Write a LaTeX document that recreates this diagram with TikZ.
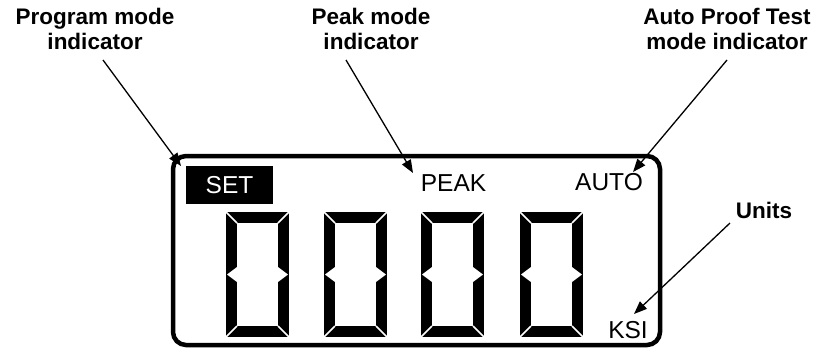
\documentclass[tikz,border=0pt]{standalone}
\usepackage{fontspec}
\setmainfont{Liberation Sans}
\usetikzlibrary{arrows.meta}
\begin{document}
\begin{tikzpicture}[
  x=1pt, y=-1pt,
  callout/.style={font=\bfseries\fontsize{22.5}{24.5}\selectfont, align=center, inner sep=0pt},
  lcdtext/.style={font=\fontsize{24.5}{24.5}\selectfont, inner sep=0pt},
  pointer/.style={line width=1.3pt, -{Triangle[length=13pt,width=10pt]}},
  lcdzero/.pic={
    % outer block of the six segments
    \fill[black] (0,0) rectangle (63,125);
    \fill[white] (11,11) rectangle (52,114);
    % bevel gaps between segments at the corners
    \draw[white, line width=1.6pt] (0,0) -- (11,11) (63,0) -- (52,11)
      (0,125) -- (11,114) (63,125) -- (52,114);
    % pointed gaps at mid height
    \fill[white] (1,62.5) -- (11,55) -- (11,70) -- cycle;
    \fill[white] (62,62.5) -- (52,55) -- (52,70) -- cycle;
  }
]
\useasboundingbox (0,0) rectangle (819,349);

% display frame
\node[draw, line width=4.5pt, rounded corners=13pt,
      minimum width=487pt, minimum height=189pt, inner sep=0pt] (lcd) at (416.5,250.5) {};

% status annunciators
\node[lcdtext, fill=black, text=white, minimum width=87pt, minimum height=38pt] (set) at (229.5,185) {SET};
\node[lcdtext] (peak) at (453.5,183) {PEAK};
\node[lcdtext] (auto) at (609,182) {AUTO};
\node[lcdtext] (ksi) at (628,330.5) {KSI};

% four seven-segment digits
\pic at (226,212) {lcdzero};
\pic at (324,212) {lcdzero};
\pic at (421,212) {lcdzero};
\pic at (520,212) {lcdzero};

% callout labels
\node[callout, anchor=north] (lprog) at (95,8) {Program mode\\indicator};
\node[callout, anchor=north] (lpeak) at (371,8) {Peak mode\\indicator};
\node[callout, anchor=north] (lauto) at (727,8) {Auto Proof Test\\mode indicator};
\node[callout, anchor=north] (lunits) at (764,202) {Units};

% pointer end points
\coordinate (progStart) at (103,60);
\coordinate (progTip) at (181,166);
\coordinate (peakStart) at (346,60);
\coordinate (peakTip) at (413,173);
\coordinate (autoStart) at (727,60);
\coordinate (autoTip) at (633,172);
\coordinate (unitsStart) at (730,223);
\coordinate (unitsTip) at (634,314);

\draw[pointer] (progStart) -- (progTip);
\draw[pointer] (peakStart) -- (peakTip);
\draw[pointer] (autoStart) -- (autoTip);
\draw[pointer] (unitsStart) -- (unitsTip);
\end{tikzpicture}
\end{document}
